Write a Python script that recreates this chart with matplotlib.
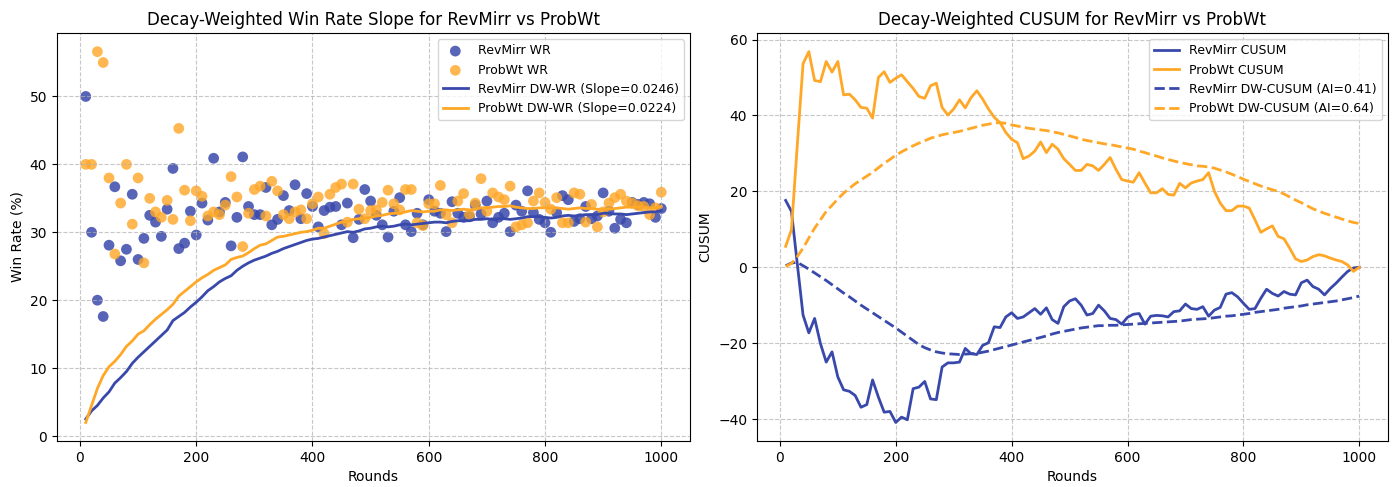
import numpy as np
import matplotlib
matplotlib.use("Agg")
import matplotlib.pyplot as plt

rounds = list(range(10, 1001, 10))

revmirr_wr = [50.0, 30.0, 20.0, 17.6, 28.1, 36.7, 25.8, 27.5, 35.6, 26.0,
              29.1, 32.5, 31.5, 29.4, 33.4, 39.4, 27.6, 28.4, 33.1, 29.6,
              34.3, 31.8, 40.9, 33.0, 34.4, 28.0, 32.2, 41.1, 33.8, 32.6,
              32.6, 36.6, 31.1, 31.9, 35.4, 33.2, 37.0, 32.0, 35.7, 33.8,
              30.8, 33.2, 33.7, 33.8, 31.1, 34.3, 29.2, 31.9, 36.3, 34.6,
              32.5, 31.1, 29.3, 33.1, 35.1, 31.1, 30.1, 32.8, 31.1, 34.8,
              33.1, 32.8, 30.1, 34.5, 32.8, 32.2, 32.3, 34.0, 32.7, 34.6,
              31.4, 32.2, 32.8, 30.1, 34.0, 33.1, 36.1, 32.9, 31.9, 31.4,
              30.0, 32.9, 35.4, 34.8, 31.6, 32.0, 33.8, 32.0, 32.4, 35.8,
              33.1, 30.6, 31.9, 31.4, 34.4, 34.1, 34.4, 34.2, 32.2, 33.5]

probwt_wr = [40.0, 40.0, 56.6, 55.0, 38.0, 26.8, 34.3, 40.0, 31.2, 38.0,
             25.5, 35.0, 33.0, 32.2, 34.7, 31.9, 45.3, 36.2, 31.7, 36.1,
             35.3, 32.4, 33.0, 32.6, 34.0, 38.2, 35.2, 27.9, 32.8, 36.3,
             36.8, 32.4, 37.5, 36.1, 32.6, 32.0, 33.0, 33.3, 32.0, 34.2,
             35.2, 29.8, 35.6, 36.6, 37.1, 31.5, 37.1, 33.4, 32.0, 33.2,
             33.3, 34.4, 36.2, 34.2, 33.3, 36.3, 36.3, 31.4, 31.0, 34.2,
             34.2, 36.9, 32.6, 31.4, 34.6, 35.7, 32.6, 34.3, 37.9, 33.1,
             35.8, 35.2, 34.8, 36.8, 30.8, 31.1, 31.4, 34.6, 35.8, 34.4,
             33.4, 35.1, 31.4, 31.4, 35.8, 35.6, 31.5, 34.1, 30.8, 33.0,
             34.3, 35.1, 35.6, 34.6, 34.3, 33.9, 33.8, 32.6, 33.6, 35.9]

revmirr_dw_wr = [2.5, 3.7, 4.5, 5.6, 6.5, 7.8, 8.6, 9.5, 10.7, 11.6,
                 12.4, 13.2, 14.0, 14.8, 15.6, 17.0, 17.6, 18.2, 19.0, 19.7,
                 20.5, 21.4, 22.0, 22.7, 23.2, 23.6, 24.4, 25.0, 25.5, 25.9,
                 26.2, 26.5, 26.9, 27.2, 27.6, 27.9, 28.2, 28.5, 28.8, 29.0,
                 29.1, 29.3, 29.5, 29.7, 29.9, 30.1, 30.0, 30.2, 30.5, 30.6,
                 30.8, 30.9, 30.8, 30.9, 31.1, 31.2, 31.1, 31.2, 31.3, 31.4,
                 31.5, 31.5, 31.4, 31.6, 31.7, 31.7, 31.7, 31.9, 31.9, 32.0,
                 31.9, 32.0, 32.0, 31.9, 32.0, 32.1, 32.3, 32.3, 32.3, 32.2,
                 32.1, 32.2, 32.4, 32.5, 32.4, 32.5, 32.6, 32.6, 32.6, 32.8,
                 32.8, 32.7, 32.7, 32.6, 32.7, 32.8, 32.9, 33.0, 33.0, 33.2]

probwt_dw_wr = [2.0, 4.5, 7.0, 8.9, 10.2, 11.0, 12.0, 13.2, 14.0, 15.0,
                15.5, 16.4, 17.2, 17.9, 18.6, 19.4, 20.6, 21.3, 22.0, 22.7,
                23.3, 23.8, 24.4, 24.8, 25.2, 26.0, 26.3, 26.5, 27.0, 27.6,
                28.1, 28.3, 28.8, 29.3, 29.4, 29.6, 29.8, 30.0, 30.1, 30.3,
                30.6, 30.6, 30.9, 31.2, 31.5, 31.6, 31.9, 32.0, 32.1, 32.2,
                32.4, 32.5, 32.7, 32.8, 32.8, 33.0, 33.2, 33.1, 33.0, 33.1,
                33.1, 33.3, 33.3, 33.2, 33.3, 33.4, 33.3, 33.4, 33.6, 33.6,
                33.7, 33.8, 33.8, 33.9, 33.7, 33.6, 33.5, 33.5, 33.6, 33.6,
                33.6, 33.6, 33.5, 33.4, 33.5, 33.6, 33.5, 33.5, 33.4, 33.4,
                33.4, 33.5, 33.6, 33.7, 33.7, 33.7, 33.7, 33.6, 33.6, 33.8]

revmirr_cusum = [17.6, 14.7, 1.0, -12.6, -17.3, -13.5, -20.1, -25.0, -22.3, -28.9,
                 -32.3, -32.7, -33.8, -36.9, -36.2, -29.7, -34.2, -38.2, -38.0, -40.9,
                 -39.5, -40.2, -32.0, -31.6, -30.1, -34.7, -34.9, -26.3, -25.2, -25.2,
                 -25.0, -21.4, -22.8, -23.0, -20.6, -19.9, -15.7, -15.9, -13.1, -12.0,
                 -13.5, -13.1, -12.0, -10.9, -12.4, -10.7, -13.8, -14.8, -10.4, -8.9,
                 -8.3, -10.0, -12.6, -12.2, -10.0, -11.5, -13.5, -13.8, -15.0, -13.2,
                 -12.4, -12.2, -15.0, -12.9, -12.7, -12.8, -13.1, -11.7, -11.5, -9.7,
                 -10.9, -11.1, -10.4, -12.9, -11.3, -10.6, -7.1, -6.7, -7.8, -9.5,
                 -11.1, -10.9, -8.2, -5.8, -6.9, -7.6, -6.4, -7.1, -7.3, -4.1,
                 -3.4, -5.1, -5.8, -7.3, -5.6, -4.2, -2.6, -1.1, -0.2, 0.0]

probwt_cusum = [5.5, 9.9, 32.0, 53.6, 56.8, 49.2, 48.9, 54.2, 51.4, 54.2,
                45.4, 45.6, 44.1, 42.1, 41.9, 39.3, 50.0, 51.5, 48.7, 49.8,
                50.7, 48.9, 47.1, 45.0, 44.5, 47.8, 48.5, 42.1, 40.1, 41.7,
                44.1, 42.0, 44.7, 46.5, 44.3, 41.7, 39.5, 38.1, 35.5, 33.7,
                32.8, 28.6, 29.3, 30.6, 33.0, 30.2, 32.4, 31.1, 28.6, 27.1,
                25.5, 25.5, 27.1, 26.7, 25.5, 27.1, 28.9, 25.8, 23.1, 22.7,
                22.4, 24.9, 22.2, 19.6, 19.6, 20.7, 19.2, 19.0, 22.1, 20.9,
                22.2, 22.7, 23.1, 24.9, 20.0, 16.9, 14.9, 14.9, 16.1, 16.1,
                15.6, 12.5, 9.2, 10.1, 10.9, 8.1, 7.5, 5.0, 2.2, 1.5,
                1.9, 2.8, 3.3, 3.0, 2.4, 1.9, 1.5, 0.6, -1.1, 0.0]

revmirr_dw_cusum = [0.4, 1.1, 1.3, 0.4, -0.5, -1.5, -2.5, -3.5, -4.6, -5.7,
                    -6.8, -7.8, -8.9, -10.0, -11.0, -12.0, -13.0, -14.0, -15.0, -16.0,
                    -17.1, -18.2, -19.3, -20.4, -21.2, -21.8, -22.3, -22.6, -22.8, -22.9,
                    -23.0, -22.9, -22.8, -22.7, -22.4, -22.1, -21.7, -21.3, -20.9, -20.5,
                    -20.1, -19.7, -19.3, -18.9, -18.5, -18.1, -17.6, -17.2, -16.9, -16.6,
                    -16.3, -16.0, -15.8, -15.6, -15.4, -15.4, -15.3, -15.3, -15.2, -15.1,
                    -15.0, -14.9, -14.8, -14.7, -14.6, -14.5, -14.4, -14.3, -14.2, -14.0,
                    -13.8, -13.7, -13.6, -13.5, -13.3, -13.1, -12.9, -12.8, -12.6, -12.4,
                    -12.2, -11.9, -11.7, -11.5, -11.3, -11.1, -10.8, -10.6, -10.4, -10.2,
                    -9.9, -9.7, -9.5, -9.3, -9.1, -8.9, -8.6, -8.3, -8.0, -7.6]

probwt_dw_cusum = [0.2, 1.0, 2.8, 5.0, 7.7, 10.3, 12.5, 14.7, 16.3, 18.0,
                   19.5, 20.8, 22.0, 23.0, 24.0, 25.0, 26.2, 27.4, 28.4, 29.5,
                   30.4, 31.2, 32.0, 32.7, 33.3, 34.0, 34.4, 34.9, 35.2, 35.5,
                   35.8, 36.2, 36.6, 37.0, 37.4, 37.7, 38.0, 38.1, 37.9, 37.5,
                   37.2, 36.9, 36.6, 36.4, 36.2, 36.0, 35.7, 35.4, 35.0, 34.6,
                   34.2, 33.7, 33.4, 33.1, 32.8, 32.5, 32.3, 32.0, 31.7, 31.4,
                   31.1, 30.6, 30.2, 29.7, 29.3, 28.8, 28.4, 28.0, 27.6, 27.3,
                   27.0, 26.7, 26.6, 26.4, 26.1, 25.6, 25.1, 24.5, 23.9, 23.2,
                   22.6, 22.0, 21.4, 20.9, 20.4, 20.0, 19.3, 18.5, 17.7, 17.0,
                   16.2, 15.4, 14.8, 14.2, 13.7, 13.2, 12.7, 12.2, 11.8, 11.5]

slope_rev = 0.0246
slope_prob = 0.0224
ai_rev = 0.41
ai_prob = 0.64

BLUE = "#3949AB"
ORANGE = "#FFA726"

fig = plt.figure(figsize=(14, 4.87), dpi=100)
ax1 = fig.add_axes([0.0407, 0.0945, 0.4522, 0.8375])
ax2 = fig.add_axes([0.5407, 0.0945, 0.4507, 0.8375])

ax1.scatter(rounds, revmirr_wr, s=60, color=BLUE, alpha=0.85, edgecolors="none",
            label="RevMirr WR")
ax1.scatter(rounds, probwt_wr, s=60, color=ORANGE, alpha=0.8, edgecolors="none",
            label="ProbWt WR")
ax1.plot(rounds, revmirr_dw_wr, color=BLUE, lw=2,
         label=f"RevMirr DW-WR (Slope={slope_rev:.4f})")
ax1.plot(rounds, probwt_dw_wr, color=ORANGE, lw=2,
         label=f"ProbWt DW-WR (Slope={slope_prob:.4f})")
ax1.set_title("Decay-Weighted Win Rate Slope for RevMirr vs ProbWt", fontsize=12)
ax1.set_xlabel("Rounds", fontsize=10)
ax1.set_ylabel("Win Rate (%)", fontsize=10)
ax1.grid(True, linestyle="--", alpha=0.7)
ax1.legend(loc="upper right", fontsize=9)

ax2.plot(rounds, revmirr_cusum, color=BLUE, lw=2, label="RevMirr CUSUM")
ax2.plot(rounds, probwt_cusum, color=ORANGE, lw=2, label="ProbWt CUSUM")
ax2.plot(rounds, revmirr_dw_cusum, color=BLUE, lw=2, linestyle="--",
         label=f"RevMirr DW-CUSUM (AI={ai_rev:.2f})")
ax2.plot(rounds, probwt_dw_cusum, color=ORANGE, lw=2, linestyle="--",
         label=f"ProbWt DW-CUSUM (AI={ai_prob:.2f})")
ax2.set_title("Decay-Weighted CUSUM for RevMirr vs ProbWt", fontsize=12)
ax2.set_xlabel("Rounds", fontsize=10)
ax2.set_ylabel("CUSUM", fontsize=10)
ax2.grid(True, linestyle="--", alpha=0.7)
ax2.legend(loc="upper right", fontsize=9)

fig.savefig("out.png", dpi=100)
